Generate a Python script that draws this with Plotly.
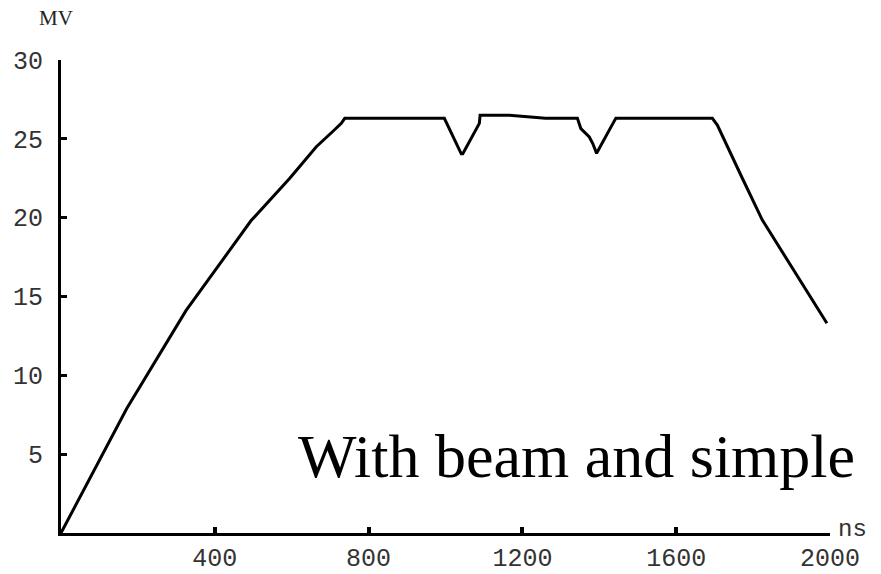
import plotly.graph_objects as go

# Time (ns) and voltage (MV)
time_ns = [0, 171, 325, 413, 494, 595, 664, 706, 729, 738,
           997, 1041, 1045, 1088, 1090, 1166, 1218, 1260, 1343,
           1352, 1374, 1383, 1393, 1404, 1422, 1433, 1443,
           1694, 1707, 1746, 1772, 1824, 1911, 1992]
voltage_mv = [0, 7.9, 14.1, 17.1, 19.8, 22.5, 24.5, 25.45, 25.98, 26.3,
              26.3, 24.05, 24.05, 25.98, 26.5, 26.5, 26.4, 26.3, 26.3,
              25.65, 25.12, 24.7, 24.08, 24.6, 25.35, 25.87, 26.3,
              26.3, 25.87, 23.9, 22.5, 19.85, 16.5, 13.3]

x_ticks = [400, 800, 1200, 1600, 2000]
y_ticks = [5, 10, 15, 20, 25, 30]

fig = go.Figure()
fig.add_trace(go.Scatter(x=time_ns, y=voltage_mv, mode="lines",
                         line=dict(color="black", width=3),
                         showlegend=False, hoverinfo="skip"))

tickfont = dict(family="Liberation Mono, Courier New, monospace", size=25, color="#333333")

fig.update_layout(
    width=881, height=574,
    margin=dict(l=61, r=51, t=60, b=41),
    paper_bgcolor="white", plot_bgcolor="white",
    xaxis=dict(range=[0, 2000], tickvals=x_ticks, ticktext=[str(v) for v in x_ticks],
               ticks="inside", ticklen=6, tickwidth=4, tickcolor="black",
               showline=True, linecolor="black", linewidth=3,
               showgrid=False, zeroline=False, tickfont=tickfont,
               ticklabelstandoff=0, automargin=False),
    yaxis=dict(range=[0, 30], tickvals=y_ticks, ticktext=[str(v) for v in y_ticks],
               ticks="inside", ticklen=6, tickwidth=3, tickcolor="black",
               showline=True, linecolor="black", linewidth=3,
               showgrid=False, zeroline=False, tickfont=tickfont,
               ticklabelstandoff=10, automargin=False),
    annotations=[
        dict(text="MV", xref="paper", yref="paper", x=-0.007, y=1.089,
             xanchor="center", yanchor="middle", showarrow=False,
             font=dict(family="Liberation Serif, Times New Roman, serif", size=21, color="#222222")),
        dict(text="ns", xref="paper", yref="paper", x=1.008, y=0.008,
             xanchor="left", yanchor="middle", showarrow=False,
             font=dict(family="Liberation Mono, Courier New, monospace", size=24, color="#333333")),
        dict(text="With beam and simple", xref="x", yref="y", x=612, y=4.9,
             xanchor="left", yanchor="middle", showarrow=False,
             font=dict(family="Liberation Serif, Times New Roman, serif", size=62, color="black")),
    ],
)

fig.write_html("out.html")
